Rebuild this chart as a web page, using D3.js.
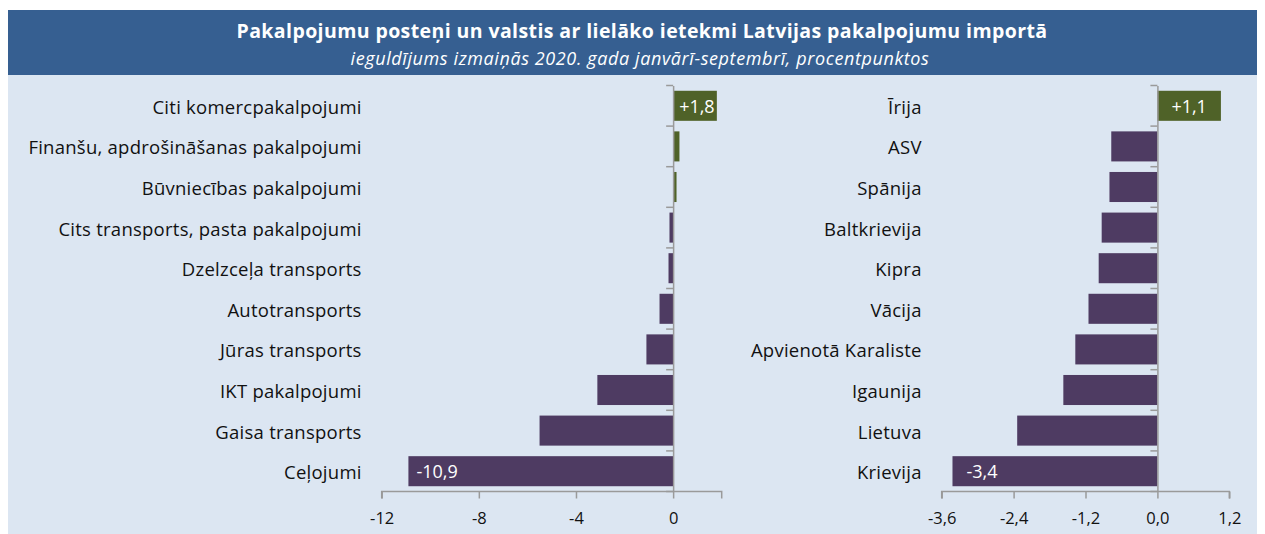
<!DOCTYPE html>
<html><head><meta charset="utf-8">
<script src="https://cdn.jsdelivr.net/npm/d3@7"></script>
<style>
body{margin:0;background:#fff;}
text{font-family:"Open Sans",Lato,sans-serif;}
</style></head>
<body><svg id="c" width="1265" height="534"></svg>
<script>
const titleText = "Pakalpojumu posteņi un valstis ar lielāko ietekmi Latvijas pakalpojumu importā";
const subtitleText = "ieguldījums izmaiņās 2020. gada janvārī-septembrī, procentpunktos";

const serviceCategories = ["Citi komercpakalpojumi","Finanšu, apdrošināšanas pakalpojumi","Būvniecības pakalpojumi","Cits transports, pasta pakalpojumi","Dzelzceļa transports","Autotransports","Jūras transports","IKT pakalpojumi","Gaisa transports","Ceļojumi"];
const serviceValues = [1.8, 0.26, 0.14, -0.15, -0.19, -0.56, -1.1, -3.12, -5.5, -10.9];
const serviceLabels = ["+1,8", null, null, null, null, null, null, null, null, "-10,9"];
const serviceTicks = [-12, -8, -4, 0];
const serviceTickLabels = ["-12", "-8", "-4", "0"];

const countryCategories = ["Īrija","ASV","Spānija","Baltkrievija","Kipra","Vācija","Apvienotā Karaliste","Igaunija","Lietuva","Krievija"];
const countryValues = [1.06, -0.77, -0.8, -0.93, -0.98, -1.15, -1.37, -1.57, -2.34, -3.42];
const countryLabels = ["+1,1", null, null, null, null, null, null, null, null, "-3,4"];
const countryTicks = [-3.6, -2.4, -1.2, 0, 1.2];
const countryTickLabels = ["-3,6", "-2,4", "-1,2", "0,0", "1,2"];

const svg = d3.select("#c");
const GREEN = "#4F6228", PURPLE = "#4E3B62", AX = "#9a9a9a";

svg.append("rect").attr("x",8).attr("y",10).attr("width",1249).attr("height",524).attr("fill","#DCE6F2");
svg.append("rect").attr("x",8).attr("y",10).attr("width",1249).attr("height",65).attr("fill","#365F91");
svg.append("text").attr("x",642).attr("y",38).attr("text-anchor","middle").attr("fill","#fff")
  .style("font-size","19.5px").style("font-weight","bold").style("letter-spacing","0.4px").text(titleText);
svg.append("text").attr("x",640).attr("y",65).attr("text-anchor","middle").attr("fill","#fff")
  .style("font-size","18px").style("font-style","italic").style("letter-spacing","0.6px").text(subtitleText);

function panel(cats, vals, labels, domain, ticks, tickLabels, x0, x1, labelPos){
  const y = d3.scaleBand().domain(cats).range([85.5, 491.5]).paddingInner(0.26).paddingOuter(0.13);
  const x = d3.scaleLinear().domain(domain).range([x0, x1]);
  const g = svg.append("g");
  const yb = d3.scaleBand().domain(cats).range([85.5, 491.5]);
  g.selectAll("rect.bar").data(cats).join("rect")
    .attr("x",(d,i)=>x(Math.min(0,vals[i])))
    .attr("width",(d,i)=>Math.abs(x(vals[i])-x(0)))
    .attr("y",d=>y(d)).attr("height",y.bandwidth())
    .attr("fill",(d,i)=>vals[i]>=0?GREEN:PURPLE);
  g.selectAll("text.val").data(cats).join("text")
    .filter((d,i)=>labels[i]!==null)
    .attr("x",(d)=>{const i=cats.indexOf(d); return labelPos(x, vals[i]);})
    .attr("y",d=>y(d)+y.bandwidth()/2+7)
    .attr("text-anchor",d=>{const i=cats.indexOf(d); return vals[i]>=0&&labelPos.center?"middle":"start";})
    .attr("fill","#fff").style("font-size","18px")
    .text(d=>labels[cats.indexOf(d)]);
  const ya = d3.axisLeft(yb).tickSize(0).tickFormat("");
  const yg = g.append("g").attr("transform",`translate(${x(0)},0)`).call(ya);
  yg.select(".domain").attr("stroke",AX).attr("stroke-width",1.5);
  g.selectAll("line.ct").data(d3.range(cats.length+1)).join("line")
    .attr("x1",x(0)-7).attr("x2",x(0)).attr("y1",i=>85.5+i*yb.step()).attr("y2",i=>85.5+i*yb.step())
    .attr("stroke",AX).attr("stroke-width",1.5);
  g.selectAll("text.cat").data(cats).join("text")
    .attr("x",x0-20).attr("y",d=>yb(d)+yb.bandwidth()/2+8)
    .attr("text-anchor","end").attr("fill","#111").style("font-size","18.5px").style("letter-spacing","0.25px").text(d=>d);
  const xa = d3.axisBottom(x).tickValues(ticks).tickSize(7).tickPadding(14)
    .tickFormat((d,i)=>tickLabels[i]);
  const xg = g.append("g").attr("transform","translate(0,491.5)").call(xa);
  xg.select(".domain").attr("stroke",AX).attr("stroke-width",1.5).attr("d",`M${x0},7V0H${x1}V7`);
  xg.selectAll(".tick text").attr("fill","#111").style("font-size","16.5px").style("font-family","'Open Sans',sans-serif");
  xg.selectAll(".tick line").attr("stroke",AX).attr("stroke-width",1.5);
}
const leftPos = (x,v)=> v>=0 ? x(0)+6 : x(v)+8;
panel(serviceCategories, serviceValues, serviceLabels, [-12,2], serviceTicks, serviceTickLabels, 381.7, 721.7, leftPos);
const rightPos = (x,v)=> v>=0 ? (x(0)+x(v))/2 : x(v)+14;
rightPos.center = true;
panel(countryCategories, countryValues, countryLabels, [-3.6,1.2], countryTicks, countryTickLabels, 941.7, 1229.3, rightPos);
</script></body></html>
